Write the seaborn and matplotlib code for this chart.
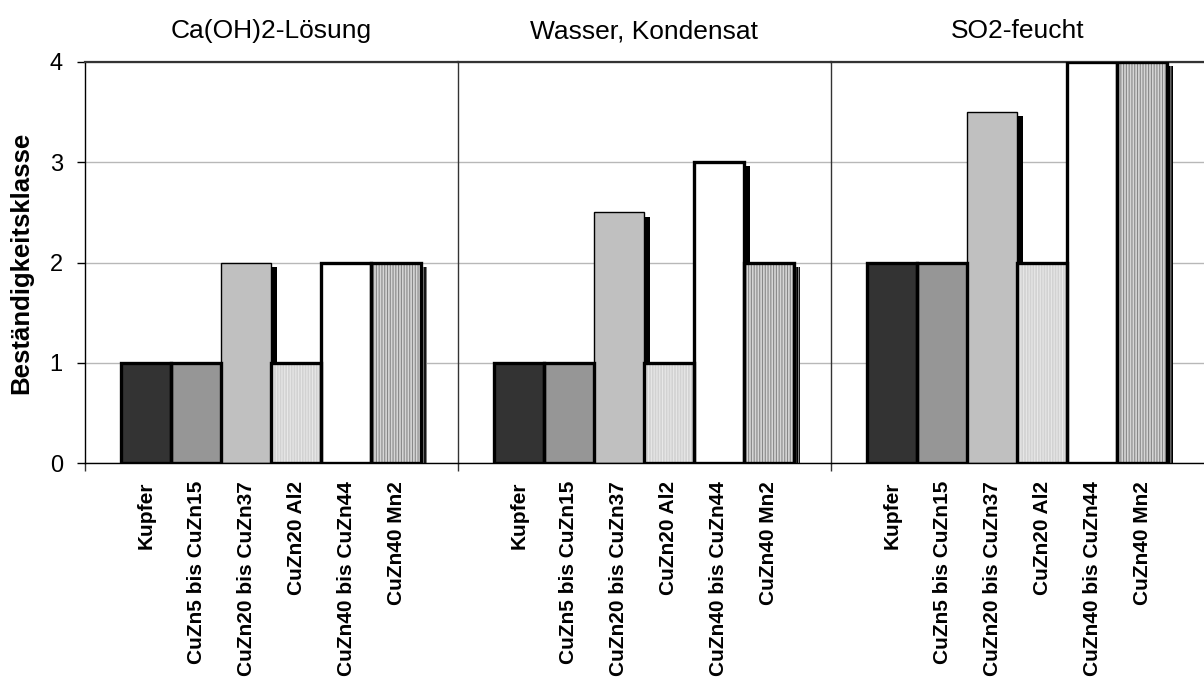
import matplotlib
matplotlib.use("Agg")
import matplotlib.pyplot as plt
import matplotlib.patheffects as pe
from matplotlib.patches import Rectangle
import numpy as np
import pandas as pd
import seaborn as sns

# Werkstoffe und Beständigkeitsklassen je Medium
werkstoffe = ["Kupfer", "CuZn5 bis CuZn15", "CuZn20 bis CuZn37",
              "CuZn20 Al2", "CuZn40 bis CuZn44", "CuZn40 Mn2"]
medien = ["Ca(OH)2-Lösung", "Wasser, Kondensat", "SO2-feucht"]
klasse_caoh2 = [1, 1, 2, 1, 2, 2]
klasse_wasser = [1, 1, 2.5, 1, 3, 2]
klasse_so2 = [2, 2, 3.5, 2, 4, 4]
y_ticks = [0, 1, 2, 3, 4]

# Darstellung der Werkstoffe: Füllfarbe, Schraffur, Schraffurfarbe, Randstärke
fuellung = ["#333333", "#969696", "#c0c0c0", "#d2d2d2", "#ffffff", "#d6d6d6"]
schraffur = [None, None, None, "||||||", None, "||||||"]
schraffur_farbe = [None, None, None, "#e8e8e8", None, "#888888"]
randstaerke = [2.4, 2.4, 1.0, 2.4, 2.4, 2.4]

sns.set_theme(style="white")
plt.rcParams["font.family"] = ["Liberation Sans", "DejaVu Sans"]
plt.rcParams["hatch.linewidth"] = 0.8

fig = plt.figure(figsize=(12.04, 6.84), dpi=100)
fig.patch.set_facecolor("white")
left, right, bottom, top = 85 / 1204, 1.0, 1 - 463 / 684, 1 - 62 / 684
breite = (right - left) / 3

schatten = [pe.SimplePatchShadow(offset=(4.2, -3.0), shadow_rgbFace="black", alpha=1.0),
            pe.Normal()]

for i, (medium, werte) in enumerate(zip(medien, [klasse_caoh2, klasse_wasser, klasse_so2])):
    ax = fig.add_axes([left + i * breite, bottom, breite, top - bottom])
    df = pd.DataFrame({"Werkstoff": werkstoffe, "Klasse": werte})
    sns.barplot(data=df, x="Werkstoff", y="Klasse", hue="Werkstoff",
                palette=fuellung, legend=False, width=1.0, linewidth=0,
                saturation=1.0, errorbar=None, ax=ax, zorder=2)

    for j, bar in enumerate(ax.patches):
        bar.set_path_effects(schatten)
        if schraffur[j]:
            bar.set_hatch(schraffur[j])
            bar.set_edgecolor(schraffur_farbe[j])
            bar.set_linewidth(0)
        rahmen = Rectangle(bar.get_xy(), bar.get_width(), bar.get_height(),
                           fill=False, edgecolor="black", linewidth=randstaerke[j],
                           zorder=4)
        ax.add_patch(rahmen)

    ax.set_xlim(-1.22, 6.24)
    ax.set_ylim(0, 4)
    ax.set_yticks(y_ticks)
    ax.set_axisbelow(True)
    ax.yaxis.grid(True, color="#b8b8b8", linewidth=1.0)
    ax.xaxis.grid(False)

    ax.set_xlabel("")
    ax.set_title(medium, fontsize=19, pad=17, color="black")
    ax.tick_params(axis="x", length=0, pad=13, labelsize=15, labelcolor="black")
    for lab in ax.get_xticklabels():
        lab.set_rotation(90)
        lab.set_fontweight("bold")
        lab.set_va("top")
        lab.set_ha("center")

    # Trennlinie zum Nachbarfeld reicht etwas unter die Grundlinie
    ax.set_xticks([-1.22], minor=True)
    ax.tick_params(axis="x", which="minor", bottom=True, length=6, width=1.0,
                   color="#333333", direction="out")

    for side in ["top", "left", "bottom", "right"]:
        ax.spines[side].set_visible(True)
    ax.spines["right"].set_visible(False)
    ax.spines["top"].set_color("#333333")
    ax.spines["top"].set_linewidth(1.6)
    ax.spines["bottom"].set_color("black")
    ax.spines["bottom"].set_linewidth(1.0)
    ax.spines["left"].set_color("black" if i == 0 else "#333333")
    ax.spines["left"].set_linewidth(1.0)

    if i == 0:
        ax.tick_params(axis="y", left=True, length=6, width=1.0, color="black",
                       direction="out", pad=10, labelsize=17, labelcolor="black")
        ax.set_ylabel("Beständigkeitsklasse", fontsize=18.5, fontweight="bold",
                      labelpad=12, color="black")
    else:
        ax.tick_params(axis="y", left=False, labelleft=False)
        ax.set_ylabel("")

fig.savefig("out.png", dpi=100, facecolor="white")
